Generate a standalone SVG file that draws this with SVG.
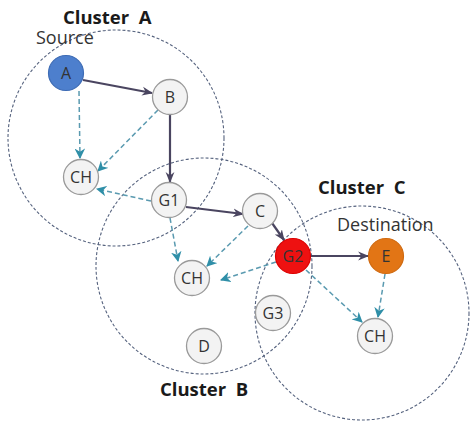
<svg xmlns="http://www.w3.org/2000/svg" width="471" height="421" viewBox="0 0 471 421">
<defs>
<style>
.cl{fill:none;stroke:#55627e;stroke-width:1.1;stroke-dasharray:3 2}
.nd{fill:#f3f3f3;stroke:#9a9a9a;stroke-width:1.3}
.t{font-family:"Open Sans","Liberation Sans",sans-serif;font-size:16px;fill:#333;text-anchor:middle;dominant-baseline:central}
.lb{font-family:"Open Sans","Liberation Sans",sans-serif;font-size:18px;fill:#333}
.cb{font-family:"Open Sans","Liberation Sans",sans-serif;font-size:18.5px;font-weight:bold;fill:#1a1a1a;white-space:pre}
.s{stroke:#4a4560;stroke-width:2.2;fill:none;marker-end:url(#ms)}
.d{stroke:#5a9ab0;stroke-width:1.5;fill:none;stroke-dasharray:5 3;marker-end:url(#md)}
</style>
<marker id="ms" viewBox="0 0 10 10" refX="9" refY="5" markerWidth="5" markerHeight="5" orient="auto" markerUnits="strokeWidth">
<path d="M0,1 L10,5 L0,9 L3,5 z" fill="#4a4560"/>
</marker>
<marker id="md" viewBox="0 0 10 10" refX="9" refY="5" markerWidth="7" markerHeight="7" orient="auto" markerUnits="strokeWidth">
<path d="M0,0 L10,5 L0,10 L3,5 z" fill="#2f8fa8"/>
</marker>
</defs>
<rect width="471" height="421" fill="#fff"/>
<g id="clusters">
<circle class="cl" cx="116" cy="138" r="108"/>
<circle class="cl" cx="204" cy="266" r="108"/>
<circle class="cl" cx="362" cy="313" r="107"/>
</g>
<g id="labels">
<text class="cb" x="63" y="24">Cluster  A</text>
<text class="cb" x="160" y="396">Cluster  B</text>
<text class="cb" x="318" y="194">Cluster  C</text>
<text class="lb" x="36" y="44">Source</text>
<text class="lb" x="337" y="231">Destination</text>
</g>
<g id="connectors">
<line class="s" x1="83" y1="80" x2="152" y2="93"/>
<line class="s" x1="170" y1="115" x2="170" y2="182"/>
<line class="s" x1="186" y1="207" x2="243" y2="214"/>
<line class="s" x1="272" y1="223" x2="284" y2="240"/>
<line class="s" x1="311" y1="256" x2="368" y2="256"/>
<line class="d" x1="79" y1="91" x2="80" y2="158"/>
<line class="d" x1="158" y1="110" x2="98" y2="171"/>
<line class="d" x1="151" y1="201" x2="97" y2="189"/>
<line class="d" x1="170" y1="218" x2="178" y2="261"/>
<line class="d" x1="248" y1="226" x2="207" y2="266"/>
<line class="d" x1="276" y1="262" x2="221" y2="280"/>
<line class="d" x1="306" y1="270" x2="362" y2="322"/>
<line class="d" x1="385" y1="274" x2="378" y2="317"/>
</g>
<g id="A"><circle cx="66" cy="73" r="17.5" fill="#4d7fcd" stroke="#3e6cb5" stroke-width="1.2"/><text class="t" x="66" y="73">A</text></g>
<g id="B"><circle class="nd" cx="170" cy="97" r="17.5"/><text class="t" x="170" y="97">B</text></g>
<g id="CH1"><circle class="nd" cx="81" cy="177" r="17.5"/><text class="t" x="81" y="177">CH</text></g>
<g id="G1"><circle class="nd" cx="169" cy="200" r="17.5"/><text class="t" x="169" y="200">G1</text></g>
<g id="C"><circle class="nd" cx="260" cy="211" r="17.5"/><text class="t" x="260" y="211">C</text></g>
<g id="CH2"><circle class="nd" cx="192" cy="278" r="17.5"/><text class="t" x="192" y="278">CH</text></g>
<g id="G2"><circle cx="293" cy="256" r="17.5" fill="#ee1111" stroke="#d00" stroke-width="1.2"/><text class="t" x="293" y="256">G2</text></g>
<g id="E"><circle cx="386" cy="256" r="17.5" fill="#e27515" stroke="#d06a10" stroke-width="1.2"/><text class="t" x="386" y="256">E</text></g>
<g id="G3"><circle class="nd" cx="273" cy="313" r="17.5"/><text class="t" x="273" y="313">G3</text></g>
<g id="D"><circle class="nd" cx="204" cy="346" r="17.5"/><text class="t" x="204" y="346">D</text></g>
<g id="CH3"><circle class="nd" cx="375" cy="336" r="17.5"/><text class="t" x="375" y="336">CH</text></g>
</svg>
